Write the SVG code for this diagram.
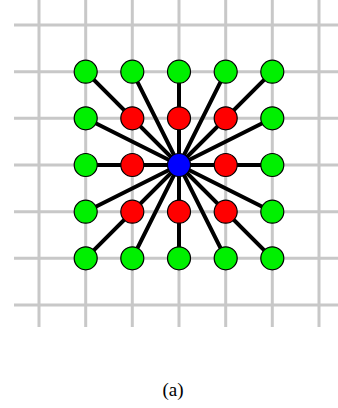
<svg xmlns="http://www.w3.org/2000/svg" width="338" height="408" viewBox="0 0 338 408">
<style>
.g{stroke:#c8c8c8;stroke-width:3;fill:none}
.e{stroke:#000;stroke-width:4;stroke-linecap:round}
.n{stroke:#000;stroke-width:1.2}
.gr{fill:#00f000}
.rd{fill:#ff0000}
.bl{fill:#0000ff}
.t{font-family:"Liberation Serif","Times New Roman",serif;font-size:19px;fill:#000}
</style>
<rect width="338" height="408" fill="#fff"/>
<g id="grid" class="g">
<path d="M39 0V327M85.7 0V327M132.3 0V327M179 0V327M225.7 0V327M272.3 0V327M319 0V327"/>
<path d="M14 25H338M14 71.7H338M14 118.3H338M14 165H338M14 211.7H338M14 258.3H338M14 305H338"/>
</g>
<g id="connectors" class="e">
<line x1="179" y1="165" x2="85.7" y2="71.7"/>
<line x1="179" y1="165" x2="132.3" y2="71.7"/>
<line x1="179" y1="165" x2="179" y2="71.7"/>
<line x1="179" y1="165" x2="225.7" y2="71.7"/>
<line x1="179" y1="165" x2="272.3" y2="71.7"/>
<line x1="179" y1="165" x2="85.7" y2="118.3"/>
<line x1="179" y1="165" x2="272.3" y2="118.3"/>
<line x1="179" y1="165" x2="85.7" y2="165"/>
<line x1="179" y1="165" x2="272.3" y2="165"/>
<line x1="179" y1="165" x2="85.7" y2="211.7"/>
<line x1="179" y1="165" x2="272.3" y2="211.7"/>
<line x1="179" y1="165" x2="85.7" y2="258.3"/>
<line x1="179" y1="165" x2="132.3" y2="258.3"/>
<line x1="179" y1="165" x2="179" y2="258.3"/>
<line x1="179" y1="165" x2="225.7" y2="258.3"/>
<line x1="179" y1="165" x2="272.3" y2="258.3"/>
</g>
<g id="n-2-2"><circle class="n gr" cx="85.7" cy="71.7" r="11.5"/></g>
<g id="n-1-2"><circle class="n gr" cx="132.3" cy="71.7" r="11.5"/></g>
<g id="n0-2"><circle class="n gr" cx="179" cy="71.7" r="11.5"/></g>
<g id="n1-2"><circle class="n gr" cx="225.7" cy="71.7" r="11.5"/></g>
<g id="n2-2"><circle class="n gr" cx="272.3" cy="71.7" r="11.5"/></g>
<g id="n-2-1"><circle class="n gr" cx="85.7" cy="118.3" r="11.5"/></g>
<g id="n-1-1"><circle class="n rd" cx="132.3" cy="118.3" r="11.5"/></g>
<g id="n0-1"><circle class="n rd" cx="179" cy="118.3" r="11.5"/></g>
<g id="n1-1"><circle class="n rd" cx="225.7" cy="118.3" r="11.5"/></g>
<g id="n2-1"><circle class="n gr" cx="272.3" cy="118.3" r="11.5"/></g>
<g id="n-20"><circle class="n gr" cx="85.7" cy="165" r="11.5"/></g>
<g id="n-10"><circle class="n rd" cx="132.3" cy="165" r="11.5"/></g>
<g id="n00"><circle class="n bl" cx="179" cy="165" r="11.5"/></g>
<g id="n10"><circle class="n rd" cx="225.7" cy="165" r="11.5"/></g>
<g id="n20"><circle class="n gr" cx="272.3" cy="165" r="11.5"/></g>
<g id="n-21"><circle class="n gr" cx="85.7" cy="211.7" r="11.5"/></g>
<g id="n-11"><circle class="n rd" cx="132.3" cy="211.7" r="11.5"/></g>
<g id="n01"><circle class="n rd" cx="179" cy="211.7" r="11.5"/></g>
<g id="n11"><circle class="n rd" cx="225.7" cy="211.7" r="11.5"/></g>
<g id="n21"><circle class="n gr" cx="272.3" cy="211.7" r="11.5"/></g>
<g id="n-22"><circle class="n gr" cx="85.7" cy="258.3" r="11.5"/></g>
<g id="n-12"><circle class="n gr" cx="132.3" cy="258.3" r="11.5"/></g>
<g id="n02"><circle class="n gr" cx="179" cy="258.3" r="11.5"/></g>
<g id="n12"><circle class="n gr" cx="225.7" cy="258.3" r="11.5"/></g>
<g id="n22"><circle class="n gr" cx="272.3" cy="258.3" r="11.5"/></g>
<text class="t" x="173" y="396" text-anchor="middle">(a)</text>
</svg>
